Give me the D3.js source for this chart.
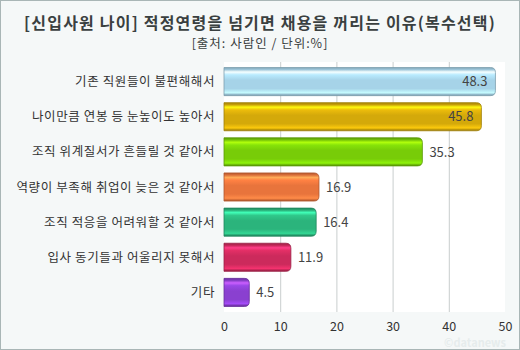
<!DOCTYPE html>
<meta charset="utf-8">
<style>
 body { margin: 0; background: #fff; }
 text { font-family: "Noto Sans CJK KR", "Noto Sans", sans-serif; fill: #333; }
 .title { font-size: 16px; font-weight: bold; fill: #3a4040; }
 .sub { font-size: 12.5px; fill: #3a4040; }
 .cat { font-size: 12.5px; }
 .val { font-size: 13px; fill: #444; }
 .grid line { stroke: #c9cece; stroke-width: 1; }
</style>
<svg class="chart"></svg>
<script src="https://cdn.jsdelivr.net/npm/d3@7"></script>
<script>

 var categories = ["기존 직원들이 불편해해서", "나이만큼 연봉 등 눈높이도 높아서", "조직 위계질서가 흔들릴 것 같아서",
                   "역량이 부족해 취업이 늦은 것 같아서", "조직 적응을 어려워할 것 같아서",
                   "입사 동기들과 어울리지 못해서", "기타"];
 var values = [48.3, 45.8, 35.3, 16.9, 16.4, 11.9, 4.5];
 var colors = ["#a6d3e8", "#d4a90a", "#78cc08", "#e8743c", "#2bb47c", "#cc2a5c", "#8a40d0"];
 var ticks = [0, 10, 20, 30, 40, 50];
 var insideLabels = [true, true, false, false, false, false, false];

 var width = 520, height = 350;
 var svg = d3.select(".chart").attr("width", width).attr("height", height);

 // frame
 svg.append("rect").attr("x", 0.5).attr("y", 0.5).attr("width", width - 1).attr("height", height - 1)
    .attr("fill", "#f5f8f8").attr("stroke", "#a9b6b6");

 svg.append("text").attr("class", "title").attr("x", 260).attr("y", 29).attr("text-anchor", "middle")
    .attr("letter-spacing", 1.2)
    .text("[신입사원 나이] 적정연령을 넘기면 채용을 꺼리는 이유(복수선택)");
 svg.append("text").attr("class", "sub").attr("x", 260).attr("y", 48).attr("text-anchor", "middle")
    .attr("letter-spacing", 1)
    .text("[출처: 사람인 / 단위:%]");

 var x = d3.scaleLinear().domain([0, 50]).range([224, 505]);
 var y = d3.scaleBand().domain(categories).range([64, 310]).paddingInner(0.2).paddingOuter(0.1);

 // plot area
 svg.append("rect").attr("x", 224).attr("y", 62).attr("width", 281).attr("height", 250).attr("fill", "#fff");

 svg.append("g").attr("class", "grid")
    .selectAll("line").data(ticks.filter(function(t) { return t > 0 && t < 50; })).enter()
    .append("line")
    .attr("x1", function(d) { return x(d) + 0.5; }).attr("x2", function(d) { return x(d) + 0.5; })
    .attr("y1", 62).attr("y2", 312);

 // faint watermark under the axis labels
 svg.append("text").attr("x", 506).attr("y", 347).attr("text-anchor", "end")
    .attr("font-size", "11px").attr("font-weight", "bold").style("fill", "#e6ecec")
    .text("©datanews");

 var axis = svg.append("g").attr("transform", "translate(0,312)")
    .call(d3.axisBottom(x).tickValues(ticks).tickSize(0).tickPadding(10));
 axis.select(".domain").remove();
 axis.selectAll("text").attr("font-size", "12.5px").attr("fill", "#333")
    .attr("font-family", "'Noto Sans', sans-serif");

 // gradients
 var defs = svg.append("defs");
 colors.forEach(function(c, i) {
     var base = d3.color(c);
     var g = defs.append("linearGradient").attr("id", "g" + i)
                 .attr("x1", 0).attr("y1", 0).attr("x2", 0).attr("y2", 1);
     var stops = [
         [0, base.darker(0.7)],
         [0.07, base.darker(0.2)],
         [0.16, base.brighter(1.1)],
         [0.26, base.brighter(0.3)],
         [0.45, base],
         [0.75, base],
         [0.9, base.brighter(0.5)],
         [0.96, base.darker(0.4)],
         [1, base.darker(0.9)]
     ];
     stops.forEach(function(s) {
         g.append("stop").attr("offset", s[0]).attr("stop-color", s[1].formatHex());
     });
 });

 function barPath(v, cat) {
     var x0 = x(0), x1 = x(v), y0 = y(cat), h = y.bandwidth(), r = 5;
     return "M" + x0 + "," + y0 + "H" + (x1 - r)
          + "Q" + x1 + "," + y0 + " " + x1 + "," + (y0 + r)
          + "V" + (y0 + h - r)
          + "Q" + x1 + "," + (y0 + h) + " " + (x1 - r) + "," + (y0 + h)
          + "H" + x0 + "Z";
 }

 var rows = categories.map(function(c, i) { return { cat: c, v: values[i], i: i }; });

 svg.selectAll(".bar").data(rows).enter().append("path")
    .attr("class", "bar")
    .attr("d", function(d) { return barPath(d.v, d.cat); })
    .attr("fill", function(d) { return "url(#g" + d.i + ")"; })
    .attr("stroke", function(d) { return d3.color(colors[d.i]).darker(0.8).formatHex(); })
    .attr("stroke-width", 0.8);

 svg.selectAll(".cat").data(rows).enter().append("text")
    .attr("class", "cat")
    .attr("x", 215)
    .attr("y", function(d) { return y(d.cat) + y.bandwidth() / 2; })
    .attr("dy", "0.36em")
    .attr("text-anchor", "end")
    .attr("letter-spacing", 0.6)
    .text(function(d) { return d.cat; });

 svg.selectAll(".val").data(rows).enter().append("text")
    .attr("class", "val")
    .attr("font-family", "'Noto Sans', sans-serif")
    .attr("x", function(d) { return insideLabels[d.i] ? x(d.v) - 8 : x(d.v) + 7; })
    .attr("y", function(d) { return y(d.cat) + y.bandwidth() / 2; })
    .attr("dy", "0.36em")
    .attr("text-anchor", function(d) { return insideLabels[d.i] ? "end" : "start"; })
    .text(function(d) { return d.v; });

</script>
